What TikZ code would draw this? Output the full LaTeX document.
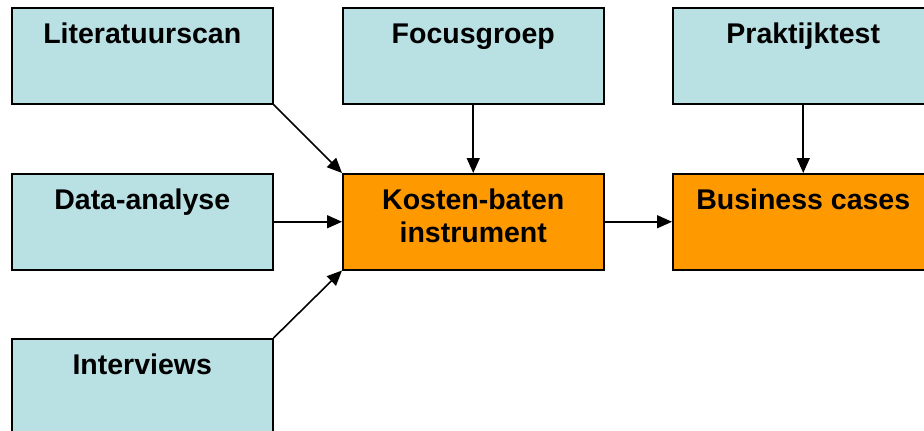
\documentclass[tikz,border=0pt]{standalone}
\usepackage{fontspec}
\setmainfont{Liberation Sans}
\usepackage{tikz}
\usetikzlibrary{calc}
\usetikzlibrary{arrows.meta}

\definecolor{sourceBlue}{RGB}{185,224,227}
\definecolor{resultOrange}{RGB}{255,153,0}

\begin{document}
\begin{tikzpicture}[x = 1pt, y = 1pt,
	box/.style = {draw, line width = 1.5pt, inner sep = 0pt, minimum width = 261pt,
		text height = 36pt, text depth = 60pt, align = center, anchor = north west,
		font = \fontsize{28.5}{33}\selectfont\bfseries},
	twolines/.style = {text height = 69pt, text depth = 27pt},
	source/.style = {box, fill = sourceBlue},
	result/.style = {box, fill = resultOrange},
	flow/.style = {line width = 1.6pt, -{Triangle[length = 15pt, width = 13pt]}}]

	% picture frame
	\clip (0,0) rectangle (924,-431);

	% column and row positions
	\def \colA {11};
	\def \colB {342};
	\def \colC {672};
	\def \rowA {-7};
	\def \rowB {-173};
	\def \rowC {-338};

	% input boxes
	\node [source] (literatuur) at (\colA, \rowA) {Literatuurscan};
	\node [source] (data) at (\colA, \rowB) {Data-analyse};
	\node [source] (interviews) at (\colA, \rowC) {Interviews};
	\node [source] (focus) at (\colB, \rowA) {Focusgroep};
	\node [source] (praktijk) at (\colC, \rowA) {Praktijktest};

	% results
	\node [result, twolines] (instrument) at (\colB, \rowB) {Kosten-baten\\instrument};
	\node [result] (business) at (\colC, \rowB) {Business cases};

	% arrows into the instrument
	\draw [flow] (literatuur.south east) -- (instrument.north west);
	\draw [flow] (data.east) -- (instrument.west);
	\draw [flow] (interviews.north east) -- (instrument.south west);
	\draw [flow] (focus.south) -- (instrument.north);

	% arrows into the business cases
	\draw [flow] (instrument.east) -- (business.west);
	\draw [flow] (praktijk.south) -- (business.north);

\end{tikzpicture}
\end{document}
